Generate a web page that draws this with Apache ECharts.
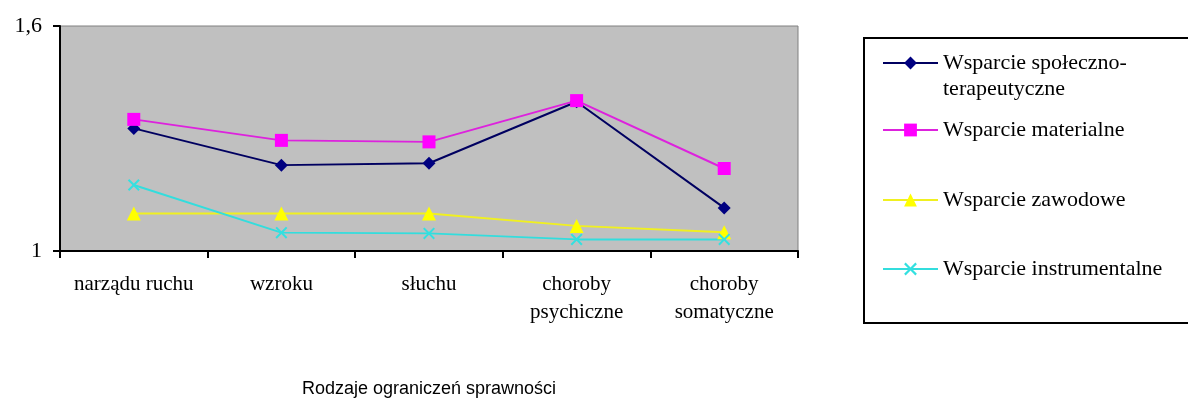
<!DOCTYPE html>
<html>
<head>
<meta charset="utf-8">
<script src="https://cdn.jsdelivr.net/npm/echarts@6/dist/echarts.min.js"></script>
<style>html,body{margin:0;padding:0;background:#fff;}#c{width:1188px;height:414px;}</style>
</head>
<body>
<div id="c"></div>
<script>
const categories = ['narządu ruchu', 'wzroku', 'słuchu', 'choroby\npsychiczne', 'choroby\nsomatyczne'];
const seriesNames = ['Wsparcie społeczno-terapeutyczne', 'Wsparcie materialne', 'Wsparcie zawodowe', 'Wsparcie instrumentalne'];
const spoleczno = [1.327, 1.229, 1.234, 1.398, 1.115];
const materialne = [1.351, 1.295, 1.291, 1.401, 1.220];
const zawodowe = [1.100, 1.100, 1.100, 1.067, 1.050];
const instrumentalne = [1.176, 1.049, 1.047, 1.031, 1.031];
const yTicks = [1, 1.6];
const axisTitle = 'Rodzaje ograniczeń sprawności';

const xSym = 'path://M0,1.2L1.2,0L5,3.8L8.8,0L10,1.2L6.2,5L10,8.8L8.8,10L5,6.2L1.2,10L0,8.8L3.8,5Z';
const serif = '"Liberation Serif", "Times New Roman", serif';

function mkSeries(name, data, color, lineColor, symbol, size) {
  return {
    name: name, type: 'line', data: data, symbol: symbol, symbolSize: size,
    showAllSymbol: true, animation: false,
    itemStyle: { color: color, borderWidth: 0 },
    lineStyle: { color: lineColor, width: 2 },
    emphasis: { disabled: true }
  };
}

function mkLegend(name, top, extra) {
  return Object.assign({
    data: [name], left: 882, top: top, orient: 'vertical', padding: 0,
    itemWidth: 55, itemHeight: 16, itemGap: 5, selectedMode: false,
    textStyle: { fontFamily: serif, fontSize: 22, color: '#000', lineHeight: 26 }
  }, extra || {});
}

const chart = echarts.init(document.getElementById('c'));
chart.setOption({
  animation: false,
  backgroundColor: '#fff',
  grid: { left: 60, top: 26, right: 390, bottom: 163, show: true, backgroundColor: '#C0C0C0', borderColor: '#808080', borderWidth: 1 },
  xAxis: {
    type: 'category', data: categories, boundaryGap: true,
    axisLine: { lineStyle: { color: '#000', width: 2 } },
    axisTick: { show: true, inside: false, length: 7, lineStyle: { color: '#000', width: 2 } },
    axisLabel: { fontFamily: serif, fontSize: 21, color: '#000', lineHeight: 28, margin: 19, interval: 0 },
    splitLine: { show: false },
    name: axisTitle, nameLocation: 'middle', nameGap: 129,
    nameTextStyle: { fontFamily: '"Liberation Sans", Arial, sans-serif', fontSize: 18, color: '#000' }
  },
  yAxis: {
    type: 'value', min: yTicks[0], max: yTicks[yTicks.length - 1],
    axisLine: { show: true, lineStyle: { color: '#000', width: 2 } },
    axisTick: { show: true, length: 7, customValues: yTicks, lineStyle: { color: '#000', width: 2 } },
    axisLabel: { customValues: yTicks, fontFamily: serif, fontSize: 22, color: '#000', margin: 18,
      formatter: v => String(v).replace('.', ',') },
    splitLine: { show: false }
  },
  legend: [
    mkLegend(seriesNames[0], 24, {
      formatter: () => ' \nWsparcie społeczno-\nterapeutyczne'
    }),
    mkLegend(seriesNames[1], 117),
    mkLegend(seriesNames[2], 187),
    mkLegend(seriesNames[3], 256)
  ],
  graphic: [{
    type: 'rect', shape: { x: 864, y: 38, width: 330, height: 285 },
    style: { fill: 'none', stroke: '#000', lineWidth: 2 }, silent: true, z: -1
  }],
  series: [
    mkSeries(seriesNames[0], spoleczno, '#000080', '#000060', 'diamond', 13),
    mkSeries(seriesNames[1], materialne, '#FF00FF', '#DD22DD', 'rect', 13),
    mkSeries(seriesNames[2], zawodowe, '#FFFF00', '#F0F020', 'triangle', 14),
    mkSeries(seriesNames[3], instrumentalne, '#33E0E0', '#33DDDD', xSym, 12)
  ]
});
</script>
</body>
</html>
